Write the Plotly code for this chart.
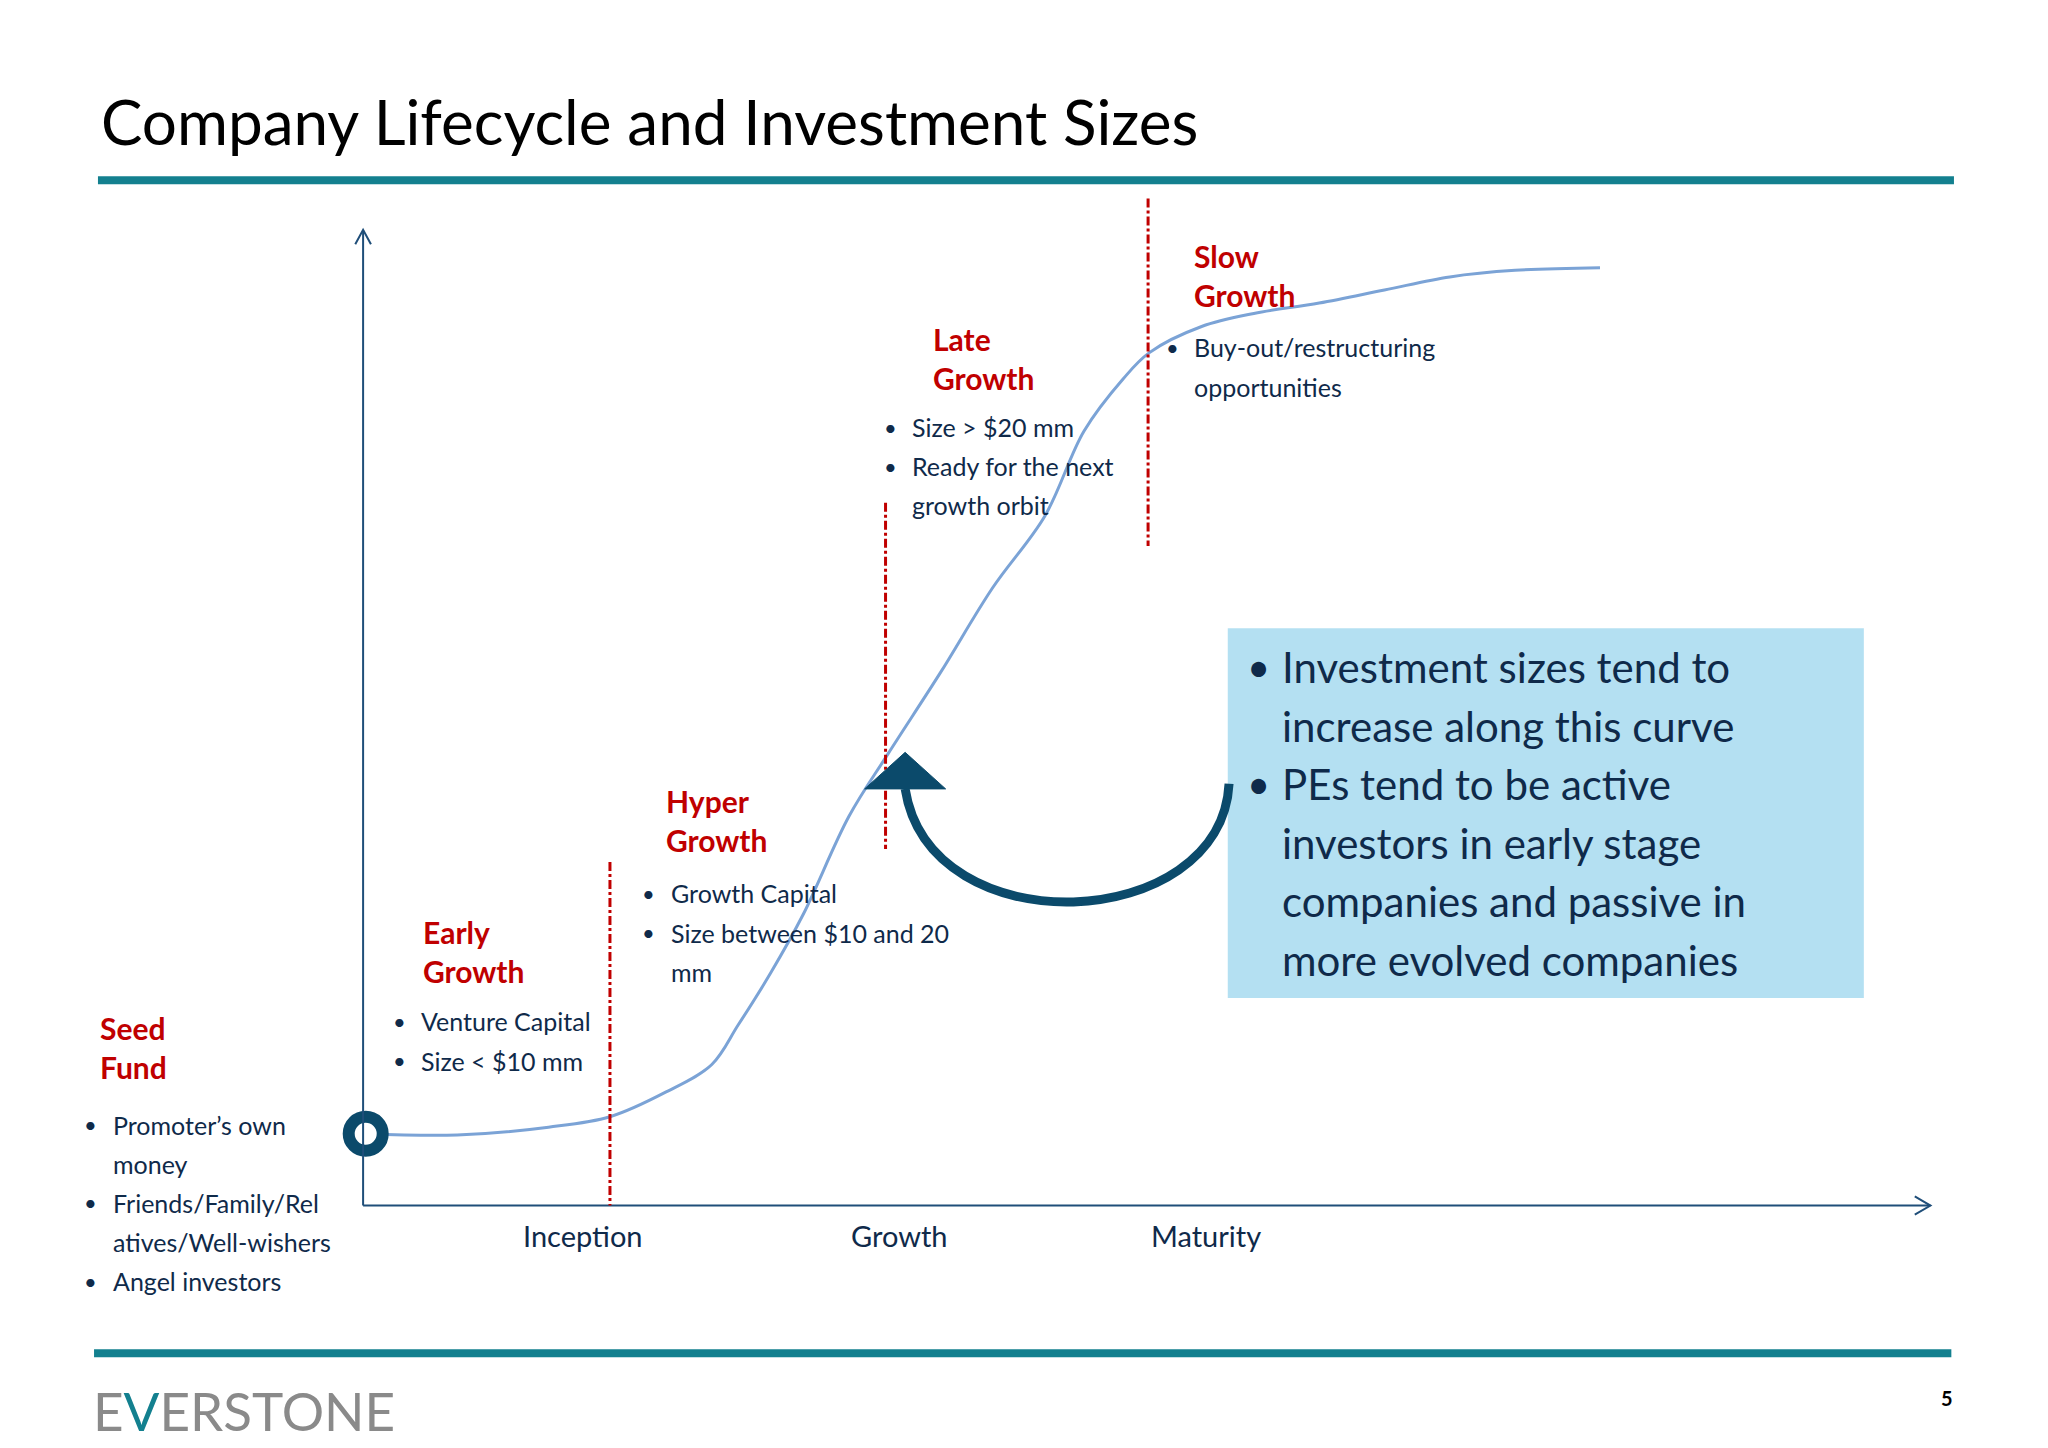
import plotly.graph_objects as go

S = 2048 / 1568  # picture was read at 1568 px wide
OFF = 8  # page body margin

# lifecycle curve (px at 1568 wide)
curve_x = [280, 350, 420, 467, 510, 545, 565, 590, 615, 650, 680, 720, 760, 800, 830, 860, 880, 920, 960, 1010, 1060, 1110, 1160, 1225]
curve_y = [868, 869, 863, 855, 836, 815, 785, 745, 700, 625, 577, 515, 450, 395, 330, 290, 270, 250, 240, 232, 222, 212, 207, 205]

stage_names = ["Seed<br>Fund", "Early<br>Growth", "Hyper<br>Growth", "Late<br>Growth", "Slow<br>Growth"]
stage_x = [75, 322, 508, 713, 913]
stage_y = [787, 713, 613, 259, 196]

stage_bullets = [
    ["Promoter’s own", "money", "Friends/Family/Rel", "atives/Well-wishers", "Angel investors"],
    ["Venture Capital", "Size < $10 mm"],
    ["Growth Capital", "Size between $10 and 20", "mm"],
    ["Size > $20 mm", "Ready for the next", "growth orbit"],
    ["Buy-out/restructuring", "opportunities"],
]
bullet_flags = [
    [1, 0, 1, 0, 1],
    [1, 1],
    [1, 1, 0],
    [1, 1, 0],
    [1, 0],
]
bullet_x = [85, 321, 512, 697, 913]
bullet_top = [861, 782, 684, 327, 266]

divider_x = [467, 678, 879]
divider_top = [660, 385, 152]
divider_bottom = [923, 650, 418]

phase_labels = ["Inception", "Growth", "Maturity"]
phase_x = [446, 689, 923]

box_lines = ["Investment sizes tend to", "increase along this curve", "PEs tend to be active",
             "investors in early stage", "companies and passive in", "more evolved companies"]
box_flags = [1, 0, 1, 0, 0, 0]

NAVY = "#0f2a4a"
RED = "#c00000"
TEAL = "#13808f"
ARROW = "#0b4a6b"
FONT = "Lato"


def p(v):
    return v * S


fig = go.Figure()
fig.add_trace(go.Scatter(x=[p(v) for v in curve_x], y=[p(v) for v in curve_y], mode="lines",
                         line=dict(color="#7ba3d6", width=3, shape="spline"), hoverinfo="skip"))
fig.add_trace(go.Scatter(x=[p(curve_x[0])], y=[p(curve_y[0])], mode="markers",
                         marker=dict(size=34, color="white", line=dict(color=ARROW, width=12)), hoverinfo="skip"))

shapes = []
# teal rules
shapes.append(dict(type="line", x0=p(75), x1=p(1496), y0=p(138), y1=p(138), line=dict(color=TEAL, width=8)))
shapes.append(dict(type="line", x0=p(72), x1=p(1494), y0=p(1036), y1=p(1036), line=dict(color=TEAL, width=8)))
# axes
shapes.append(dict(type="line", x0=p(278), x1=p(278), y0=p(176), y1=p(923), line=dict(color="#1f4e79", width=2)))
shapes.append(dict(type="line", x0=p(278), x1=p(1478), y0=p(923), y1=p(923), line=dict(color="#1f4e79", width=2)))
shapes.append(dict(type="path", path=f"M {p(272)},{p(187)} L {p(278)},{p(176)} L {p(284)},{p(187)}",
                   line=dict(color="#1f4e79", width=2)))
shapes.append(dict(type="path", path=f"M {p(1466)},{p(916)} L {p(1478)},{p(923)} L {p(1466)},{p(930)}",
                   line=dict(color="#1f4e79", width=2)))
# stage dividers
for x, t, b in zip(divider_x, divider_top, divider_bottom):
    shapes.append(dict(type="line", x0=p(x), x1=p(x), y0=p(t), y1=p(b),
                       line=dict(color=RED, width=3, dash="dashdot")))
# info box
shapes.append(dict(type="rect", x0=p(940), x1=p(1427), y0=p(481), y1=p(764),
                   fillcolor="#b4e0f2", line=dict(width=0), layer="below"))
# curved arrow
shapes.append(dict(type="path",
                   path=f"M {p(941)},{p(600)} C {p(935)},{p(715)} {p(712)},{p(725)} {p(693)},{p(604)}",
                   line=dict(color=ARROW, width=9)))
shapes.append(dict(type="path",
                   path=f"M {p(662)},{p(604)} L {p(693)},{p(576)} L {p(724)},{p(604)} Z",
                   fillcolor=ARROW, line=dict(color=ARROW, width=1)))

ann = []


def text(x, y, s, size, color, anchor="left"):
    ann.append(dict(x=p(x), y=p(y), text=s, showarrow=False, xanchor=anchor, yanchor="middle",
                    font=dict(family=FONT, size=size, color=color)))


text(76, 93, "Company Lifecycle and Investment Sizes", 62, "black")

for name, x, y in zip(stage_names, stage_x, stage_y):
    ann.append(dict(x=p(x), y=p(y - 15), text=f"<b>{name}</b>", showarrow=False, xanchor="left",
                    yanchor="top", align="left", font=dict(family=FONT, size=30, color=RED)))

for lines, flags, tx, top in zip(stage_bullets, bullet_flags, bullet_x, bullet_top):
    for i, (line, f) in enumerate(zip(lines, flags)):
        y = top + 30 * i
        if f:
            text(tx - 22, y, "•", 22, NAVY)
        text(tx, y, line, 25, NAVY)

for lab, x in zip(phase_labels, phase_x):
    text(x, 946, lab, 29, NAVY, "center")

for i, (line, f) in enumerate(zip(box_lines, box_flags)):
    y = 511 + 44.8 * i
    if f:
        text(953, y, "•", 40, NAVY)
    text(980, y, line, 42, NAVY)

ann.append(dict(x=p(70), y=p(1080), text="E<span style='color:#13808f'>V</span>ERSTONE", showarrow=False,
                xanchor="left", yanchor="middle", font=dict(family=FONT, size=53, color="#8a8a8a")))
text(1497, 1070, "<b>5</b>", 20, "black", "right")

fig.update_layout(
    width=2048, height=1448, margin=dict(l=0, r=0, t=0, b=0),
    paper_bgcolor="white", plot_bgcolor="white", showlegend=False,
    xaxis=dict(range=[OFF, 2048 + OFF], visible=False, fixedrange=True),
    yaxis=dict(range=[1448 + OFF, OFF], visible=False, fixedrange=True),
    shapes=shapes, annotations=ann,
)
fig.write_html("out.html")
